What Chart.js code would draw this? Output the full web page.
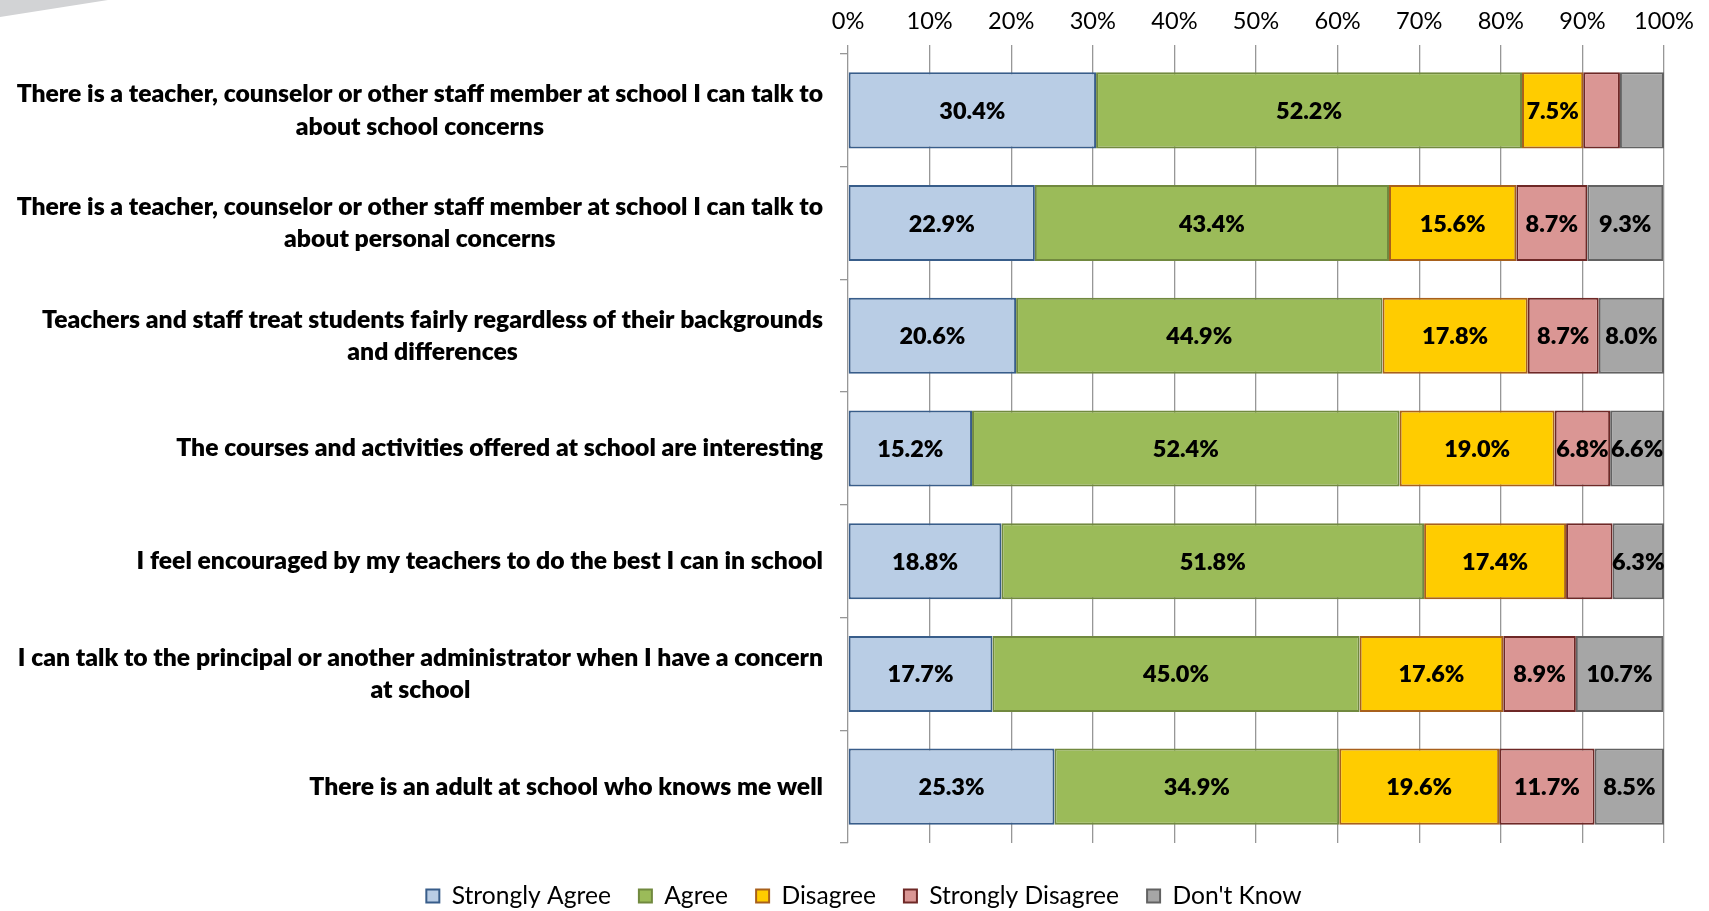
<!DOCTYPE html>
<html>
<head>
<meta charset="utf-8">
<script src="https://cdn.jsdelivr.net/npm/chart.js@4.4.1/dist/chart.umd.min.js"></script>
<style>
  html, body { margin: 0; padding: 0; background: #ffffff; }
  #deco { position: absolute; left: 0; top: 0; width: 110px; height: 18px; background: #D2D3D5;
          clip-path: polygon(0 0, 108px 0, 0 17px); z-index: 0; }
  #wrap { position: relative; width: 1709px; height: 911px; z-index: 1; }
</style>
</head>
<body>
<div id="deco"></div>
<div id="wrap"><canvas id="c"></canvas></div>
<script>
// ---- Data ----
const categories = [
  ["There is a teacher, counselor or other staff member at school I can talk to", "about school concerns"],
  ["There is a teacher, counselor or other staff member at school I can talk to", "about personal concerns"],
  ["Teachers and staff treat students fairly regardless of their backgrounds", "and differences"],
  ["The courses and activities offered at school are interesting"],
  ["I feel encouraged by my teachers to do the best I can in school"],
  ["I can talk to the principal or another administrator when I have a concern", "at school"],
  ["There is an adult at school who knows me well"]
];
const seriesNames = ["Strongly Agree", "Agree", "Disagree", "Strongly Disagree", "Don't Know"];
const stronglyAgree    = [30.4, 22.9, 20.6, 15.2, 18.8, 17.7, 25.3];
const agree            = [52.2, 43.4, 44.9, 52.4, 51.8, 45.0, 34.9];
const disagree         = [7.5, 15.6, 17.8, 19.0, 17.4, 17.6, 19.6];
const stronglyDisagree = [4.5, 8.7, 8.7, 6.8, 5.7, 8.9, 11.7];
const dontKnow         = [5.4, 9.3, 8.0, 6.6, 6.3, 10.7, 8.5];
const tickValues = [0, 10, 20, 30, 40, 50, 60, 70, 80, 90, 100];
const labelThreshold = 6;

// ---- Styles ----
const FAMILY = "Lato, 'Open Sans', sans-serif";
const BOLD = "800";
const fills   = ["#B9CDE5", "#9BBB59", "#FFCC00", "#DA9694", "#A6A6A6"];
const borders = ["#385D8A", "#71893F", "#A8601C", "#6E2826", "#626262"];

function fitSize(text, weight, target) {
  const ctx = document.createElement('canvas').getContext('2d');
  ctx.font = weight + " 100px " + FAMILY;
  return 100 * target / ctx.measureText(text).width;
}
const catSize    = fitSize("The courses and activities offered at school are interesting", BOLD, 647);
const dataSize   = fitSize("52.2%", BOLD, 66);
const tickSize   = fitSize("100%", "normal", 60);
const legendSize = fitSize("Strongly Disagree", "normal", 190);
const legendPad  = 28;

const allSeries = [stronglyAgree, agree, disagree, stronglyDisagree, dontKnow];
const datasets = allSeries.map((vals, i) => ({
  label: seriesNames[i],
  data: vals,
  backgroundColor: fills[i],
  borderColor: borders[i],
  borderWidth: 2,
  borderSkipped: false,
  categoryPercentage: 1.0,
  barPercentage: 0.675
}));

const categoryLabelPlugin = {
  id: 'categoryLabels',
  afterDraw(chart) {
    const ctx = chart.ctx;
    const y = chart.scales.y;
    const right = y.right - 25;
    const lineH = 32.5;
    ctx.save();
    ctx.font = BOLD + " " + catSize + "px " + FAMILY;
    ctx.fillStyle = "#000";
    ctx.textAlign = "center";
    ctx.textBaseline = "middle";
    categories.forEach((lines, i) => {
      const cy = y.getPixelForValue(i);
      const maxW = Math.max(...lines.map(l => ctx.measureText(l).width));
      const cx = right - maxW / 2;
      lines.forEach((l, j) => {
        ctx.fillText(l, cx, cy + (j - (lines.length - 1) / 2) * lineH);
      });
    });
    ctx.restore();
  }
};

const dataLabelPlugin = {
  id: 'dataLabels',
  afterDatasetsDraw(chart) {
    const ctx = chart.ctx;
    ctx.save();
    ctx.font = BOLD + " " + dataSize + "px " + FAMILY;
    ctx.fillStyle = "#000";
    ctx.textAlign = "center";
    ctx.textBaseline = "middle";
    chart.data.datasets.forEach((ds, d) => {
      const meta = chart.getDatasetMeta(d);
      meta.data.forEach((el, i) => {
        const v = ds.data[i];
        if (v >= labelThreshold) {
          ctx.fillText(v.toFixed(1) + "%", (el.x + el.base) / 2, el.y + 1);
        }
      });
    });
    ctx.restore();
  }
};

// keep chart area bottom fixed and place legend row at the reference height
const legendShiftPlugin = {
  id: 'legendShift',
  afterLayout(chart) {
    const lg = chart.legend;
    if (lg) {
      const dy = 896 - (lg.top + legendPad + Math.max(legendSize, 13) / 2);
      lg.top += dy; lg.bottom += dy; lg.left += 32; lg.right += 32;
    }
  }
};

const legendHeight = Math.max(legendSize, 13) + legendPad + 10;

new Chart(document.getElementById('c'), {
  type: 'bar',
  data: { labels: categories.map(c => c.join(' ')), datasets },
  options: {
    indexAxis: 'y',
    responsive: true,
    maintainAspectRatio: false,
    animation: false,
    layout: { padding: { left: 0, right: 45, top: 0, bottom: 911 - 843 - legendHeight } },
    scales: {
      x: {
        position: 'top',
        stacked: true,
        min: 0, max: 100,
        afterBuildTicks(scale) { scale.ticks = tickValues.map(v => ({ value: v })); },
        afterFit(scale) { scale.height = 54; },
        ticks: {
          callback: v => v + '%',
          color: '#000',
          font: { family: FAMILY, size: tickSize },
          padding: 9,
          maxRotation: 0
        },
        grid: { color: '#979797', lineWidth: 1.3, tickLength: 9, drawTicks: true },
        border: { display: false }
      },
      y: {
        stacked: true,
        afterFit(scale) { scale.width = 848; },
        ticks: { display: false },
        grid: { offset: true, drawOnChartArea: false, drawTicks: true, tickLength: 8, color: '#979797', lineWidth: 1.3 },
        border: { display: false }
      }
    },
    plugins: {
      legend: {
        position: 'bottom',
        labels: {
          boxWidth: 13,
          boxHeight: 13,
          padding: legendPad,
          color: '#000',
          font: { family: FAMILY, size: legendSize }
        }
      },
      tooltip: { enabled: false }
    }
  },
  plugins: [categoryLabelPlugin, dataLabelPlugin, legendShiftPlugin]
});
</script>
</body>
</html>
